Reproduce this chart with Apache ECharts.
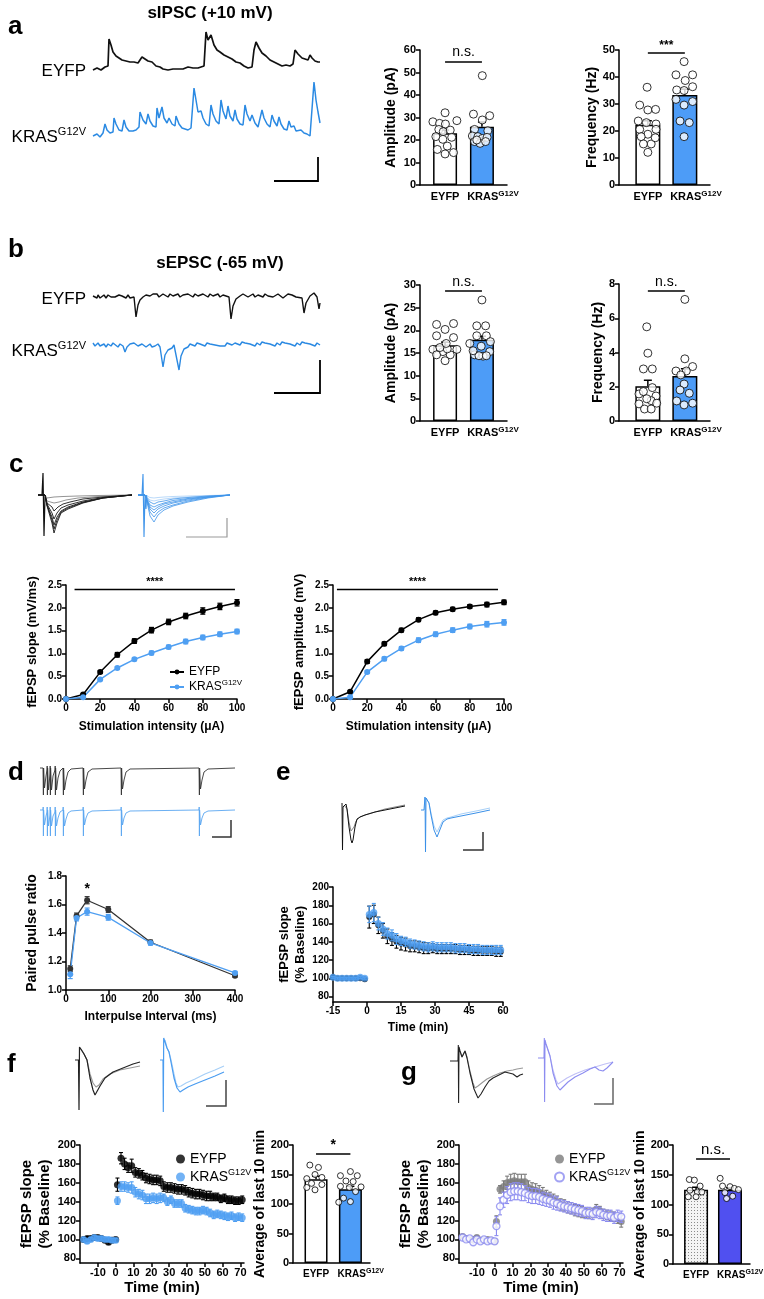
<!DOCTYPE html>
<html>
<head>
<meta charset="utf-8">
<script src="https://cdn.jsdelivr.net/npm/echarts@6/dist/echarts.min.js"></script>
<style>
html, body { margin: 0; padding: 0; background: #fff; }
#main { width: 764px; height: 1299px; }
</style>
</head>
<body>
<div id="main"></div>
<script>
var FONT = '"Liberation Sans", Arial, sans-serif';
var NARROW = '"Liberation Sans Narrow", "Liberation Sans", Arial, sans-serif';

// ---------- panel a : sIPSC ----------
var aAmpMean = [23.0, 25.9], aAmpSem = [1.4, 2.1];
var aAmpEyfp = [[-0.33,28.1],[-0.15,27.4],[0,32.1],[0.01,27.1],[0.32,28.6],[-0.17,24.7],[-0.05,23.7],[0.14,24.4],[-0.25,21.5],[-0.06,20.3],[0.18,21.2],[-0.21,15.8],[0.06,17.3],[0,13.8],[0.23,14.4]];
var aAmpKras = [[0.01,48.6],[-0.23,31.5],[0.01,28.9],[0.21,30.8],[-0.2,24.7],[0.16,24.1],[-0.26,21.8],[-0.11,21.5],[0.01,20.7],[0.14,21.2],[-0.2,19.3],[-0.05,18.5],[0.1,19.3],[-0.14,20.0]];
var aFreqMean = [22.3, 33.3], aFreqSem = [1.5, 2.2];
var aFreqEyfp = [[-0.02,36.2],[-0.22,29.6],[0,27.8],[0.21,28.0],[-0.26,23.7],[-0.04,23.1],[0.22,22.6],[-0.22,20.6],[0,18.8],[0.22,20.6],[-0.18,17.9],[0.09,15.2],[-0.12,15.2],[0,12.1],[0.2,17.5]];
var aFreqKras = [[-0.02,45.7],[-0.24,40.8],[0.21,40.8],[0.01,38.7],[0.21,36.4],[-0.22,35.2],[-0.02,35.0],[-0.24,31.7],[-0.02,29.6],[0.21,30.9],[-0.13,23.7],[0.12,23.1],[-0.02,17.9]];

// ---------- panel b : sEPSC ----------
var bAmpMean = [16.7, 17.9], bAmpSem = [0.7, 0.8];
var bAmpEyfp = [[-0.23,21.3],[0.23,21.5],[0,20.2],[-0.23,18.8],[0.23,18.4],[-0.33,15.8],[-0.06,15.3],[0.32,15.8],[-0.23,14.6],[0.14,14.6],[0,13.3],[0.06,15.9],[-0.14,16.2],[0.03,17.1]];
var bAmpKras = [[0,26.7],[-0.14,21.0],[0.1,21.0],[-0.14,18.8],[0.12,18.8],[-0.33,17.1],[-0.02,16.5],[0.23,17.5],[-0.2,14.6],[0.03,14.3],[0.21,15.3],[-0.08,14.4],[-0.24,15.5],[0.12,14.4]];
var bFreqMean = [2.03, 2.63], bFreqSem = [0.35, 0.42];
var bFreqEyfp = [[-0.03,5.5],[0,3.96],[-0.12,3.04],[0.12,3.04],[0.12,1.95],[-0.24,1.58],[-0.12,1.72],[0.22,1.46],[-0.24,1.0],[0.09,1.19],[0.24,1.04],[-0.09,0.7],[0.09,0.7],[-0.03,1.3]];
var bFreqKras = [[0,7.1],[0,3.63],[0.21,3.18],[-0.24,2.92],[0.04,2.92],[-0.11,2.69],[-0.02,2.16],[-0.13,1.81],[0.12,1.62],[-0.22,1.17],[-0.02,0.94],[0.21,1.04]];

// ---------- panel c : input-output ----------
var cIntensity = [0, 10, 20, 30, 40, 50, 60, 70, 80, 90, 100];
var cSlopeEyfp = [0, 0.10, 0.59, 0.97, 1.27, 1.51, 1.69, 1.82, 1.93, 2.03, 2.11];
var cSlopeEyfpSem = [0, 0.02, 0.03, 0.05, 0.05, 0.06, 0.06, 0.06, 0.07, 0.07, 0.07];
var cSlopeKras = [0, 0.04, 0.43, 0.68, 0.87, 1.01, 1.14, 1.26, 1.35, 1.42, 1.48];
var cSlopeKrasSem = [0, 0.01, 0.02, 0.03, 0.03, 0.04, 0.04, 0.05, 0.05, 0.05, 0.05];
var cAmpEyfp = [0, 0.16, 0.82, 1.21, 1.51, 1.74, 1.89, 1.97, 2.03, 2.07, 2.12];
var cAmpEyfpSem = [0, 0.02, 0.04, 0.04, 0.04, 0.04, 0.04, 0.04, 0.04, 0.05, 0.05];
var cAmpKras = [0, 0.04, 0.59, 0.88, 1.11, 1.29, 1.42, 1.51, 1.59, 1.64, 1.68];
var cAmpKrasSem = [0, 0.02, 0.03, 0.04, 0.04, 0.05, 0.05, 0.05, 0.05, 0.06, 0.06];

// ---------- panel d : paired pulse ----------
var dInterval = [10, 25, 50, 100, 200, 400];
var dEyfp = [1.15, 1.52, 1.63, 1.565, 1.335, 1.10];
var dEyfpSem = [0.02, 0.02, 0.025, 0.02, 0.015, 0.01];
var dKras = [1.11, 1.505, 1.55, 1.51, 1.33, 1.12];
var dKrasSem = [0.03, 0.02, 0.025, 0.02, 0.015, 0.01];

// ---------- panel e : LTP ----------
var eTime = [-15,-13,-11,-9,-7,-5,-3,-1,1,3,5,7,9,11,13,15,17,19,21,23,25,27,29,31,33,35,37,39,41,43,45,47,49,51,53,55,57,59];
var eEyfp = [101,100,100,100,100,100,100,99,167,170,158,152,146,143,140,138,137,135,135,134,133,133,133,132,132,132,132,132,131,131,131,130,130,130,130,130,129,129];
var eEyfpSem = [1,1,1,1,1,1,1,1.5,12,10,9,8,8,7,7,7,7,6,6,6,6,6,5,5,5,5,5,5,5,5,5,5,5,5,5,5,5,5];
var eKras = [101,100,100,100,100,100,101,100,170,172,160,154,149,147,143,141,140,138,137,136,135,134,135,134,134,134,134,133,133,133,132,132,132,131,131,131,131,131];
var eKrasSem = [1,1,1,1,1,1,1,1,9,10,7,7,6,6,6,5,5,5,5,5,5,5,5,5,5,5,5,5,5,5,5,5,5,5,5,5,5,5];

// ---------- panel f : LTP ----------
var fTime = [-18,-16,-14,-12,-10,-8,-6,-4,-2,0,1,3,5,7,9,11,13,15,17,19,21,23,25,27,29,31,33,35,37,39,41,43,45,47,49,51,53,55,57,59,61,63,65,67,69,71];
var fEyfp = [100,101,101,102,102,101,99,97,99,100,158,186,180,176,178,171,170,168,165,164,163,163,162,156,155,155,154,153,153,152,150,149,148,148,147,146,146,145,145,143,144,142,142,141,141,142];
var fEyfpSem = [2,2,2,2,2,2,2,2,2,2,7,6,6,5,7,5,5,5,5,5,5,5,5,5,5,5,5,5,5,5,5,5,5,5,5,5,5,4,4,4,4,4,4,4,4,4];
var fKras = [100,98,100,102,101,101,100,100,99,99,141,156,156,155,155,150,148,147,143,143,144,143,144,144,140,142,138,138,138,133,132,131,130,130,131,130,128,126,127,126,125,124,125,123,124,123];
var fKrasSem = [2,2,2,2,2,2,2,2,2,2,4,5,5,5,6,5,5,5,5,5,5,5,5,4,4,4,4,4,4,4,4,4,4,4,4,4,4,4,4,4,4,4,4,4,4,4];
var fBarMean = [142, 125], fBarSem = [5, 5];
var fBarEyfp = [[-0.18,166],[0.07,162],[-0.03,150],[-0.27,143],[0.17,145],[-0.13,135],[-0.27,128],[0.17,133],[-0.03,124]];
var fBarKras = [[0,155],[-0.29,148],[0.2,148],[-0.13,139],[0.08,138],[-0.29,130],[0.31,129],[-0.03,128],[0.15,121],[-0.2,110],[0,104],[-0.34,103]];

// ---------- panel g : LTP ----------
var gEyfp = [103,101,100,100,102,99,99,100,99,98,119,153,156,160,161,162,161,161,161,155,153,152,150,148,146,144,142,140,137,136,134,133,131,130,129,128,127,128,132,130,127,126,125,124,122,119];
var gEyfpSem = [2,2,2,2,2,2,2,2,2,2,6,4,6,7,8,8,8,8,8,7,7,7,7,7,6,6,6,6,6,6,6,6,6,6,6,5,5,5,5,5,5,5,5,5,5,6];
var gKras = [102,100,101,97,100,98,100,98,99,98,114,135,142,147,150,151,151,150,149,147,146,146,145,143,142,141,139,138,136,135,134,133,132,131,130,128,128,127,129,128,126,125,125,123,125,124];
var gKrasSem = [2,2,2,2,2,2,2,2,2,2,10,9,8,9,9,9,9,9,8,8,8,8,8,7,7,7,7,7,6,6,6,6,6,6,6,6,6,6,6,6,6,6,6,6,6,6];
var gBarMean = [125, 125], gBarSem = [4, 3];
var gBarEyfp = [[-0.2,142],[-0.05,141],[0.12,131],[-0.18,124],[0.04,121],[0.17,121],[-0.23,113],[0,113]];
var gBarKras = [[-0.29,144],[0,130],[-0.22,131],[0.13,127],[0.25,125],[-0.15,120],[0.08,114],[-0.1,110]];

// ---------- example traces ----------
var trIpscEyfp = [[0,0],[2,-1],[4,2],[6,0],[8,0],[10,2],[12,3],[15,4],[16,31],[18,25],[20,18],[23,14],[26,12],[29,10],[33,9],[37,8],[41,8],[45,7],[47,8],[49,13],[52,11],[55,9],[59,8],[63,4],[67,3],[70,1],[72,2],[75,0],[77,2],[80,1],[82,3],[85,1],[87,3],[90,1],[92,2],[95,3],[97,4],[100,2],[102,3],[105,2],[107,4],[111,4],[113,38],[115,30],[118,35],[121,25],[124,20],[127,18],[131,15],[135,13],[139,11],[143,8],[147,7],[151,4],[155,2],[159,3],[161,20],[163,28],[166,22],[169,17],[173,14],[177,10],[181,8],[185,6],[189,4],[193,5],[197,4],[200,6],[202,20],[205,16],[209,12],[212,11],[215,10],[217,15],[219,12],[222,9],[225,8],[227,8]];
var trIpscKras = [[0,4],[4,6],[7,3],[10,7],[12,16],[14,10],[17,7],[20,8],[21,22],[23,16],[26,10],[29,9],[31,20],[33,13],[36,9],[40,9],[43,10],[46,13],[47,28],[50,20],[53,16],[55,26],[57,19],[60,14],[63,13],[64,32],[66,22],[69,33],[71,22],[74,17],[76,22],[79,16],[82,14],[83,24],[86,16],[89,12],[92,11],[95,10],[98,12],[101,52],[103,40],[105,28],[108,29],[110,22],[113,16],[116,14],[118,35],[120,26],[123,19],[126,16],[128,40],[130,29],[133,21],[135,34],[137,24],[140,19],[142,30],[144,21],[147,16],[150,15],[152,35],[154,26],[157,19],[159,25],[162,17],[165,13],[169,30],[171,22],[174,16],[177,13],[179,25],[181,19],[184,14],[186,23],[188,16],[191,11],[194,10],[196,19],[198,13],[201,14],[203,9],[205,8],[208,10],[211,7],[214,6],[217,4],[219,2],[221,58],[223,40],[225,28],[227,17]];
var trEpscEyfp = [[0,1],[2,-1],[4,-1],[5,2],[7,-1],[9,1],[11,2],[13,-1],[15,2],[18,0],[20,2],[22,0],[24,-1],[26,2],[29,1],[31,-1],[33,-1],[35,2],[37,-1],[39,1],[41,0],[43,-20],[45,-8],[47,-3],[50,0],[53,2],[55,0],[57,1],[60,3],[62,1],[64,3],[66,0],[68,1],[70,3],[72,1],[75,0],[77,3],[80,1],[82,2],[85,3],[87,0],[90,2],[92,1],[95,3],[97,3],[100,0],[102,3],[105,1],[107,1],[110,3],[112,1],[115,0],[117,3],[120,1],[122,2],[125,3],[127,0],[130,2],[132,1],[136,0],[138,-22],[140,-9],[143,-2],[147,1],[150,3],[152,3],[155,0],[157,2],[160,3],[162,0],[165,2],[167,1],[170,0],[172,3],[175,1],[177,3],[180,0],[182,1],[185,3],[187,2],[190,-1],[192,0],[195,3],[197,1],[199,2],[201,3],[203,0],[205,2],[209,-1],[211,-16],[213,-6],[217,1],[219,3],[221,4],[224,0],[226,-12],[227,-6]];
var trEpscKras = [[0,2],[2,-1],[4,0],[5,2],[7,-1],[9,1],[11,1],[13,-2],[15,1],[18,-1],[20,2],[22,0],[25,-2],[27,1],[30,-1],[32,-7],[34,-2],[37,1],[39,-1],[41,2],[43,1],[45,-1],[47,-2],[49,1],[51,0],[53,-2],[55,0],[57,1],[59,-2],[62,-1],[65,1],[67,-2],[70,-22],[72,-10],[75,-5],[79,-3],[81,0],[83,-1],[86,-25],[88,-11],[91,-4],[95,-2],[97,1],[99,0],[102,-1],[104,2],[107,1],[109,-1],[112,-1],[114,2],[117,1],[119,-1],[122,0],[124,2],[127,-1],[129,1],[132,-1],[134,2],[136,1],[139,0],[142,2],[144,0],[147,0],[149,3],[152,2],[154,0],[157,1],[159,3],[162,-1],[164,2],[167,0],[169,3],[172,2],[174,0],[177,1],[179,3],[182,-1],[184,2],[187,0],[189,3],[192,2],[194,0],[197,1],[199,3],[202,-1],[204,2],[207,0],[209,3],[212,2],[214,0],[217,1],[219,3],[222,-1],[224,2],[227,0]];
var trIoArtEyfp = [[4,0],[5,22],[6,-41],[7,-2]];
var trIoEyfp = [
  [[0,0],[7,0],[9,-3],[11,-2],[16,-2],[25,-1.5],[40,-1],[60,-0.5],[94,0]],
  [[0,0],[7,0],[9,-6],[11,-4],[16,-8],[21,-7],[28,-5],[40,-3],[60,-1.5],[94,0]],
  [[0,0],[7,0],[9,-8],[11,-6],[14,-12],[16,-16],[20,-12],[25,-9],[32,-7],[45,-4],[65,-2],[94,0]],
  [[0,0],[7,0],[9,-9],[11,-7],[14,-18],[16,-24],[19,-18],[23,-13],[30,-10],[45,-6],[65,-2.5],[94,0]],
  [[0,0],[7,0],[9,-10],[11,-8],[14,-22],[16,-30],[19,-22],[23,-16],[30,-12],[45,-7],[65,-3],[94,0]],
  [[0,0],[7,0],[9,-10],[11,-8],[14,-25],[16,-34],[19,-25],[23,-17],[30,-13],[45,-7.5],[65,-3],[94,0]],
  [[0,0],[7,0],[9,-11],[11,-9],[14,-28],[16,-38],[19,-28],[23,-18],[30,-14],[45,-8],[65,-3],[94,0]]
];
var trIoArtKras = [[4,0],[5,21],[6,-42],[7,0],[8,-14],[8.7,0]];
var trIoKras = [
  [[0,0],[7,0],[9,-1],[12,-2.5],[16,-3],[20,-2.5],[26,-2],[35,-1.5],[50,-1],[70,-0.5],[92,0]],
  [[0,0],[7,0],[9,-2],[12,-5],[16,-6],[20,-5],[26,-4],[35,-3],[50,-2],[70,-1],[92,0]],
  [[0,0],[7,0],[9,-3],[12,-7],[16,-9],[20,-7],[26,-6],[35,-4],[50,-2.5],[70,-1],[92,0]],
  [[0,0],[7,0],[9,-4],[12,-10],[16,-12],[20,-10],[26,-8],[35,-5.5],[50,-3.5],[70,-1.5],[92,0]],
  [[0,0],[7,0],[9,-5],[12,-12],[16,-15],[20,-12],[26,-9],[35,-7],[50,-4],[70,-2],[92,0]],
  [[0,0],[7,0],[9,-5],[12,-14],[16,-18],[20,-14],[26,-11],[35,-8],[50,-5],[70,-2],[92,0]],
  [[0,0],[7,0],[9,-6],[12,-17],[16,-22],[20,-17],[26,-13],[35,-10],[50,-6],[70,-2.5],[92,0]],
  [[0,0],[7,0],[9,-7],[12,-21],[16,-27],[20,-20],[26,-15],[35,-11],[50,-7],[70,-3],[92,0]]
];
var trPprEyfp = [[0,0],[3,0],[3.2,2],[3.4,-27],[3.6,0],[4.5,-20],[6,-8],[7,-2],[7.2,2],[7.4,-27],[7.6,0],[8.5,-22],[10,-6],[10.2,2],[10.4,-27],[10.6,0],[11.5,-22],[13,-8],[15,-2],[15.2,2],[15.4,-27],[15.6,0],[16.5,-22],[18,-10],[20,-3],[23,0],[23.2,2],[23.4,-27],[23.6,0],[24.5,-22],[26,-12],[28,-4],[31,-1],[43,0],[43.2,2],[43.4,-27],[43.6,0],[44.5,-21],[46,-12],[48,-4],[52,-1],[81,0],[81.2,2],[81.4,-27],[81.6,0],[82.5,-21],[84,-12],[86,-4],[90,-1],[159,0],[159.2,2],[159.4,-27],[159.6,0],[160.5,-21],[162,-12],[164,-4],[168,-1],[195,0]];
var trPprKras = [[0,0],[3,0],[3.2,3],[3.4,-26],[3.6,0],[4.5,-15],[6,-6],[7,-2],[7.2,3],[7.4,-26],[7.6,0],[8.5,-16],[10,-5],[10.2,3],[10.4,-26],[10.6,0],[11.5,-16],[13,-6],[15,-2],[15.2,3],[15.4,-26],[15.6,0],[16.5,-16],[18,-8],[20,-2],[23,0],[23.2,3],[23.4,-26],[23.6,0],[24.5,-16],[26,-9],[28,-3],[31,-1],[43,0],[43.2,3],[43.4,-26],[43.6,0],[44.5,-15],[46,-8],[48,-3],[52,-1],[81,0],[81.2,3],[81.4,-26],[81.6,0],[82.5,-15],[84,-8],[86,-3],[90,-1],[159,0],[159.2,3],[159.4,-26],[159.6,0],[160.5,-15],[162,-8],[164,-3],[168,-1],[195,0]];
var trEEyfp = [[2,4],[2.5,-43],[3,0],[4,2],[5,1],[6,3],[7,-2],[9,-20],[11,-33],[12,-36],[13,-33],[15,-20],[17,-12],[20,-10],[25,-8],[35,-5],[45,-3],[55,-1],[65,1]];
var trEEyfpPre = [[4,2],[5,1],[6,3],[7,-2],[9,-15],[11,-24],[12,-26],[14,-20],[16,-14],[20,-10],[25,-8],[35,-5],[45,-2],[55,0],[65,2]];
var trEKras = [[0,0],[3,0],[4,13],[4.5,-42],[5,12],[6,10],[8,7],[10,-5],[13,-20],[16,-27],[18,-22],[22,-12],[26,-9],[30,-8],[40,-6],[55,-3],[69,0]];
var trEKrasPre = [[5,12],[6,10],[8,7],[10,-3],[13,-16],[16,-22],[18,-18],[22,-10],[26,-8],[30,-7],[40,-4],[55,-1],[69,2]];
var trFEyfp = [[0,0],[3.5,0],[4,-50],[4.5,13],[6,11],[9,6],[12,0],[15,-18],[18,-30],[20,-35],[22,-33],[25,-26],[30,-18],[38,-12],[48,-8],[58,-4],[65,-2]];
var trFEyfpPre = [[6,11],[9,6],[12,0],[15,-14],[18,-23],[21,-27],[24,-25],[28,-19],[35,-14],[45,-10],[55,-8],[65,-6]];
var trFKras = [[0,0],[3,0],[3.3,-52],[3.7,22],[5,20],[7,12],[9,8],[11,-2],[14,-18],[17,-28],[20,-32],[23,-30],[28,-27],[35,-24],[45,-20],[55,-16],[64,-12]];
var trFKrasPre = [[5,20],[7,12],[9,8],[11,0],[14,-14],[16,-23],[18,-27],[21,-26],[26,-23],[35,-19],[45,-14],[55,-10],[64,-6]];
var trGEyfp = [[5,0],[13,0],[13.3,16],[13.6,-42],[14,14],[15,10],[17,4],[19,6],[20,10],[22,3],[25,-12],[29,-28],[33,-37],[36,-33],[40,-26],[44,-20],[48,-17],[52,-15],[56,-13],[60,-11],[64,-12],[68,-13],[72,-16],[75,-14],[78,-13]];
var trGEyfpPre = [[15,10],[17,4],[19,6],[20,10],[22,4],[25,-10],[28,-22],[30,-27],[33,-25],[38,-21],[42,-18],[48,-15],[55,-12],[62,-10],[68,-9],[72,-8],[78,-7]];
var trGKras = [[3,0],[9,0],[9.3,20],[9.6,-44],[10,18],[11,14],[13,8],[15,2],[18,-15],[22,-28],[25,-32],[28,-29],[33,-24],[40,-19],[48,-15],[55,-11],[60,-9],[64,-12],[68,-13],[72,-10],[78,-4]];
var trGKrasPre = [[11,14],[13,8],[15,2],[18,-12],[21,-22],[23,-26],[26,-24],[32,-20],[40,-16],[50,-12],[60,-9],[70,-6],[78,-4]];

// ---------- helpers ----------
var grids = [], xAxes = [], yAxes = [], extraX = [], series = [], graphics = [];

function merge(a, b) {
  for (var k in b) {
    if (b[k] && typeof b[k] === 'object' && !Array.isArray(b[k]) && a[k] && typeof a[k] === 'object') merge(a[k], b[k]);
    else a[k] = b[k];
  }
  return a;
}
function valAxis(o) {
  return merge({
    type: 'value', splitLine: {show: false},
    axisLine: {show: true, onZero: false, lineStyle: {color: '#000', width: 1.5}},
    axisTick: {show: true, length: 4, lineStyle: {color: '#000', width: 1.5}},
    axisLabel: {color: '#000', fontWeight: 'bold', fontFamily: NARROW, fontSize: 11, margin: 4},
    nameLocation: 'middle',
    nameTextStyle: {color: '#000', fontWeight: 'bold', fontFamily: FONT, fontSize: 14}
  }, o || {});
}
function grid(l, t, w, h, xa, ya) {
  var i = grids.length;
  grids.push({left: l, top: t, width: w, height: h, outerBoundsMode: 'none', containLabel: false});
  xa.gridIndex = i; ya.gridIndex = i;
  xAxes.push(xa); yAxes.push(ya);
  return i;
}
function traceGrid(l, t, w, h, xr, yr) {
  return grid(l, t, w, h, {type: 'value', min: xr[0], max: xr[1], show: false},
                          {type: 'value', min: yr[0], max: yr[1], show: false});
}
function trace(g, data, color, width) {
  series.push({type: 'line', xAxisIndex: g, yAxisIndex: g, data: data, symbol: 'none', silent: true,
    lineStyle: {color: color, width: width || 1}, z: 2});
}
function rows(x, m, e) {
  return x.map(function (v, i) { return [v, m[i], e[i]]; });
}
function pairs(x, y) {
  return x.map(function (v, i) { return [v, y[i]]; });
}
function errBars(g, data, color, cap, upOnly, lw, z) {
  return {type: 'custom', xAxisIndex: g, yAxisIndex: g, data: data, silent: true, z: z || 3,
    encode: {x: 0, y: 1},
    renderItem: function (params, api) {
      var x = api.value(0), m = api.value(1), e = api.value(2);
      var hi = api.coord([x, m + e]), lo = api.coord([x, upOnly ? m : m - e]);
      var st = {stroke: color, lineWidth: lw || 1.2};
      var kids = [
        {type: 'line', shape: {x1: hi[0], y1: hi[1], x2: lo[0], y2: lo[1]}, style: st},
        {type: 'line', shape: {x1: hi[0] - cap, y1: hi[1], x2: hi[0] + cap, y2: hi[1]}, style: st}
      ];
      if (!upOnly) kids.push({type: 'line', shape: {x1: lo[0] - cap, y1: lo[1], x2: lo[0] + cap, y2: lo[1]}, style: st});
      return {type: 'group', children: kids};
    }};
}
function supRich(n, s, bold) {
  return {
    n: {fontSize: n, fontFamily: bold ? NARROW : FONT, fontWeight: bold ? 'bold' : 'normal', color: '#000', lineHeight: Math.round(n * 1.3)},
    s: {fontSize: s, fontFamily: bold ? NARROW : FONT, fontWeight: bold ? 'bold' : 'normal', color: '#000', verticalAlign: 'top', lineHeight: s}
  };
}

var dotPattern = (function () {
  var c = document.createElement('canvas');
  c.width = 3; c.height = 3;
  var ctx = c.getContext('2d');
  ctx.fillStyle = '#f4f4f4'; ctx.fillRect(0, 0, 3, 3);
  ctx.fillStyle = '#8a8a8a'; ctx.fillRect(1, 1, 1, 1);
  return c;
})();

var groupNames = ['{n|EYFP}', '{n|KRAS}{s|G12V}'];
function barPanel(p) {
  var g = grid(p.left, p.top, p.width, p.height,
    valAxis({min: p.xr[0], max: p.xr[1], axisTick: {show: false},
      axisLabel: {customValues: [0], fontSize: p.lab, margin: 5, showMinLabel: true, showMaxLabel: true,
        formatter: function () { return groupNames[0]; }, rich: supRich(p.lab, p.lab - 3, true)}}),
    valAxis({min: 0, max: p.yMax, interval: p.yStep, name: p.yName, nameGap: p.nameGap,
      axisLabel: {fontSize: p.tick || 11}, nameTextStyle: {fontSize: p.nameSize || 14}}));
  // a second, line-less bottom axis in the same grid carries the KRAS label;
  // the label is centred a little right of the bar so the superscript hangs off to the right
  extraX.push(valAxis({gridIndex: g, position: 'bottom', min: p.xr[0], max: p.xr[1], axisLine: {show: false}, axisTick: {show: false},
    axisLabel: {customValues: [p.krasLabelAt], fontSize: p.lab, margin: 5, showMinLabel: true, showMaxLabel: true,
      formatter: function () { return groupNames[1]; }, rich: supRich(p.lab, p.lab - 3, true)}}));
  series.push({type: 'bar', xAxisIndex: g, yAxisIndex: g, barWidth: p.barW, z: 2,
    data: [{value: [0, p.mean[0]], itemStyle: {color: p.fill[0]}}, {value: [1, p.mean[1]], itemStyle: {color: p.fill[1]}}],
    itemStyle: {borderColor: '#000', borderWidth: 1.5},
    markLine: {silent: true, symbol: 'none', animation: false,
      lineStyle: {color: '#000', width: 1.5, type: 'solid'},
      label: {show: true, position: 'insideMiddleTop', distance: p.sigDist || 2, formatter: p.sig[1], color: '#000',
        fontFamily: NARROW, fontSize: p.sigSize || 14, fontWeight: p.sigBold ? 'bold' : 'normal'},
      data: [[{coord: [0, p.sig[0]]}, {coord: [1, p.sig[0]]}]]}});
  series.push(errBars(g, rows([0, 1], p.mean, p.sem), '#000', 4, true, 1.5, 3));
  series.push({type: 'scatter', xAxisIndex: g, yAxisIndex: g, data: p.pts[0].concat(p.pts[1].map(function (d) { return [d[0] + 1, d[1]]; })),
    symbolSize: p.dot, itemStyle: {color: '#fff', borderColor: '#000', borderWidth: 1}, z: 4, silent: true});
  return g;
}

var BLUE = '#4f9ff2', BARBLUE = '#4d9cf7';

// ---------- a ----------
barPanel({left: 420, top: 50, width: 87, height: 135, xr: [-0.68, 1.68], yMax: 60, yStep: 10, yName: 'Amplitude (pA)', nameGap: 22,
  mean: aAmpMean, sem: aAmpSem, pts: [aAmpEyfp, aAmpKras], fill: ['#fff', BARBLUE], barW: 24, dot: 8, lab: 11, krasLabelAt: 1.3,
  sig: [55, 'n.s.']});
barPanel({left: 619, top: 50, width: 91, height: 135, xr: [-0.78, 1.68], yMax: 50, yStep: 10, yName: 'Frequency (Hz)', nameGap: 20,
  mean: aFreqMean, sem: aFreqSem, pts: [aFreqEyfp, aFreqKras], fill: ['#fff', BARBLUE], barW: 25, dot: 8, lab: 11, krasLabelAt: 1.3,
  sig: [48.9, '***'], sigBold: true, sigSize: 12, sigDist: 1});
// ---------- b ----------
barPanel({left: 420, top: 285, width: 87, height: 136, xr: [-0.68, 1.68], yMax: 30, yStep: 5, yName: 'Amplitude (pA)', nameGap: 22,
  mean: bAmpMean, sem: bAmpSem, pts: [bAmpEyfp, bAmpKras], fill: ['#fff', BARBLUE], barW: 24, dot: 8, lab: 11, krasLabelAt: 1.3,
  sig: [28.7, 'n.s.']});
barPanel({left: 619, top: 284, width: 91, height: 137, xr: [-0.78, 1.68], yMax: 8, yStep: 2, yName: 'Frequency (Hz)', nameGap: 13,
  mean: bFreqMean, sem: bFreqSem, pts: [bFreqEyfp, bFreqKras], fill: ['#fff', BARBLUE], barW: 25, dot: 8, lab: 11, krasLabelAt: 1.3,
  sig: [7.6, 'n.s.']});

// ---------- c ----------
function ioChart(left, yName, eyfp, eyfpSem, kras, krasSem, named) {
  var g = grid(left, 585, 171, 114,
    valAxis({min: 0, max: 100, interval: 20, name: 'Stimulation intensity (\u03bcA)', nameGap: 22,
      axisLabel: {fontSize: 10}, nameTextStyle: {fontSize: 12}}),
    valAxis({min: 0, max: 2.5, interval: 0.5, name: yName, nameGap: 27,
      axisLabel: {fontSize: 10, formatter: function (v) { return v.toFixed(1); }}, nameTextStyle: {fontSize: 13}}));
  series.push(errBars(g, rows(cIntensity, eyfp, eyfpSem), '#000', 2.5, false, 1.2, 4));
  series.push(errBars(g, rows(cIntensity, kras, krasSem), BLUE, 2.5, false, 1.2, 4));
  series.push({type: 'line', name: named ? 'cE' : undefined, xAxisIndex: g, yAxisIndex: g, data: pairs(cIntensity, eyfp),
    symbol: 'circle', symbolSize: 6, itemStyle: {color: '#000'}, lineStyle: {color: '#000', width: 1.5}, z: 5, silent: true,
    markLine: {silent: true, symbol: 'none', animation: false, lineStyle: {color: '#000', width: 1.3, type: 'solid'},
      label: {show: true, position: 'insideMiddleTop', distance: 2, formatter: '****', color: '#000', fontFamily: NARROW, fontSize: 11, fontWeight: 'bold'},
      data: [[{coord: [left < 200 ? 5 : 2.3, 2.41]}, {coord: [left < 200 ? 98.8 : 96.5, 2.41]}]]}});
  series.push({type: 'line', name: named ? 'cK' : undefined, xAxisIndex: g, yAxisIndex: g, data: pairs(cIntensity, kras),
    symbol: 'circle', symbolSize: 6, itemStyle: {color: BLUE}, lineStyle: {color: BLUE, width: 1.5}, z: 5, silent: true});
}
ioChart(66, 'fEPSP slope (mV/ms)', cSlopeEyfp, cSlopeEyfpSem, cSlopeKras, cSlopeKrasSem, true);
ioChart(333, 'fEPSP amplitude (mV)', cAmpEyfp, cAmpEyfpSem, cAmpKras, cAmpKrasSem, false);

// ---------- d ----------
var gD = grid(66, 876, 169, 114,
  valAxis({min: 0, max: 400, interval: 100, name: 'Interpulse Interval (ms)', nameGap: 21, axisLabel: {fontSize: 10}, nameTextStyle: {fontSize: 12, fontFamily: NARROW}}),
  valAxis({min: 1.0, max: 1.8, interval: 0.2, name: 'Paired pulse ratio', nameGap: 27, axisLabel: {fontSize: 10, formatter: function (v) { return v.toFixed(1); }}, nameTextStyle: {fontSize: 14}}));
series.push(errBars(gD, rows(dInterval, dEyfp, dEyfpSem), '#333', 2.5, false, 1.2, 4));
series.push(errBars(gD, rows(dInterval, dKras, dKrasSem), BLUE, 2.5, false, 1.2, 4));
series.push({type: 'line', xAxisIndex: gD, yAxisIndex: gD, data: pairs(dInterval, dEyfp), symbol: 'circle', symbolSize: 6, silent: true,
  itemStyle: {color: '#333'}, lineStyle: {color: '#333', width: 1.3}, z: 5,
  markPoint: {silent: true, animation: false, symbol: 'circle', symbolSize: 1, itemStyle: {color: 'rgba(0,0,0,0)'},
    label: {show: true, position: 'inside', formatter: '*', color: '#000', fontSize: 14, fontWeight: 'bold', fontFamily: FONT},
    data: [{coord: [50, 1.71]}]}});
series.push({type: 'line', xAxisIndex: gD, yAxisIndex: gD, data: pairs(dInterval, dKras), symbol: 'circle', symbolSize: 6, silent: true,
  itemStyle: {color: BLUE}, lineStyle: {color: BLUE, width: 1.3}, z: 5});

// ---------- e ----------
var ltpTicks = [80, 100, 120, 140, 160, 180, 200];
var gE = grid(333, 887, 170, 115,
  valAxis({min: -15, max: 60, interval: 15, name: 'Time (min)', nameGap: 20, axisLabel: {fontSize: 10}, nameTextStyle: {fontSize: 12, fontFamily: NARROW}}),
  valAxis({min: 74, max: 200, axisLabel: {customValues: ltpTicks, fontSize: 10}, axisTick: {customValues: ltpTicks},
    name: 'fEPSP slope\n(% Baseline)', nameGap: 22, nameTextStyle: {fontSize: 13, lineHeight: 16}}));
series.push(errBars(gE, rows(eTime, eEyfp, eEyfpSem), '#000', 2, false, 1.1, 3));
series.push({type: 'scatter', xAxisIndex: gE, yAxisIndex: gE, data: pairs(eTime, eEyfp), symbolSize: 6, itemStyle: {color: '#000'}, z: 4, silent: true});
series.push(errBars(gE, rows(eTime, eKras, eKrasSem), BLUE, 2, false, 1.1, 5));
series.push({type: 'scatter', xAxisIndex: gE, yAxisIndex: gE, data: pairs(eTime, eKras), symbolSize: 7, itemStyle: {color: BLUE}, z: 6, silent: true});

// ---------- f, g ----------
var timeTicks = [-10, 0, 10, 20, 30, 40, 50, 60, 70];
function ltpChart(left, nameE, nameK, eyfp, eyfpSem, kras, krasSem, colE, colK, openK) {
  var g = grid(left, 1145, 164, 118,
    valAxis({min: -20, max: 72, axisLabel: {customValues: timeTicks, fontSize: 11}, axisTick: {customValues: timeTicks},
      name: 'Time (min)', nameGap: 17, nameTextStyle: {fontSize: 15, fontFamily: NARROW}}),
    valAxis({min: 75, max: 200, axisLabel: {customValues: ltpTicks, fontSize: 11}, axisTick: {customValues: ltpTicks},
      name: 'fEPSP slope\n(% Baseline)', nameGap: 24, nameTextStyle: {fontSize: 15, lineHeight: 18}}));
  series.push(errBars(g, rows(fTime, eyfp, eyfpSem), colE, 2, false, 1.1, 3));
  series.push({type: 'scatter', name: nameE, xAxisIndex: g, yAxisIndex: g, data: pairs(fTime, eyfp), symbolSize: 7, itemStyle: {color: colE}, z: 4, silent: true});
  series.push(errBars(g, rows(fTime, kras, krasSem), colK, 2, false, 1.1, 5));
  series.push({type: 'scatter', name: nameK, xAxisIndex: g, yAxisIndex: g, data: pairs(fTime, kras), symbolSize: 7,
    itemStyle: openK ? {color: '#fff', borderColor: colK, borderWidth: 1.3} : {color: colK}, z: 6, silent: true});
}
ltpChart(80, 'fE', 'fK', fEyfp, fEyfpSem, fKras, fKrasSem, '#000', BLUE, false);
ltpChart(459, 'gE', 'gK', gEyfp, gEyfpSem, gKras, gKrasSem, '#7a7a7a', '#8b8bf0', true);

barPanel({left: 293, top: 1145, width: 77, height: 118, xr: [-0.67, 1.57], yMax: 200, yStep: 50, yName: 'Average of last 10 min', nameGap: 26,
  mean: fBarMean, sem: fBarSem, pts: [fBarEyfp, fBarKras], fill: ['#fff', BARBLUE], barW: 23, dot: 6, lab: 10, nameSize: 14, krasLabelAt: 1.3,
  sig: [185, '*'], sigBold: true, sigSize: 14, sigDist: 0});
barPanel({left: 673, top: 1145, width: 77, height: 119, xr: [-0.68, 1.59], yMax: 200, yStep: 50, yName: 'Average of last 10 min', nameGap: 26,
  mean: gBarMean, sem: gBarSem, pts: [gBarEyfp, gBarKras], fill: [{image: dotPattern, repeat: 'repeat'}, '#5050f0'], barW: 24, dot: 6, lab: 10, nameSize: 14, krasLabelAt: 1.3,
  sig: [176.5, 'n.s.'], sigSize: 15});

// ---------- traces ----------
var g;
g = traceGrid(93, 28, 227, 50, [0, 227], [-8, 42]); trace(g, trIpscEyfp, '#111', 1.7);
g = traceGrid(93, 78, 227, 70, [0, 227], [-8, 62]); trace(g, trIpscKras, '#2b8ae3', 1.5);
g = traceGrid(93, 285, 227, 40, [0, 227], [-28, 12]); trace(g, trEpscEyfp, '#111', 1.4);
g = traceGrid(93, 330, 227, 45, [0, 227], [-30, 15]); trace(g, trEpscKras, '#2a89e2', 1.4);
g = traceGrid(38, 470, 94, 70, [0, 94], [-45, 25]);
trIoEyfp.forEach(function (d, i) { trace(g, d, i < 2 ? '#888' : '#1a1a1a', 0.9); });
trace(g, trIoArtEyfp, '#111', 1.2);
g = traceGrid(138, 470, 94, 70, [0, 94], [-45, 25]);
trIoKras.forEach(function (d, i) { trace(g, d, i < 2 ? '#a8cff7' : '#3f94ea', 0.8); });
trace(g, trIoArtKras, '#3f94ea', 1.1);
g = traceGrid(40, 762, 195, 38, [0, 195], [-32, 6]); trace(g, trPprEyfp, '#333', 0.9);
g = traceGrid(40, 804, 195, 38, [0, 195], [-32, 6]); trace(g, trPprKras, '#5aa6f0', 0.9);
g = traceGrid(340, 798, 68, 56, [0, 68], [-47, 9]); trace(g, trEEyfpPre, '#888', 1); trace(g, trEEyfp, '#111', 1);
g = traceGrid(421, 790, 72, 66, [0, 72], [-46, 20]); trace(g, trEKrasPre, '#a6cff7', 1); trace(g, trEKras, '#3a90e8', 1);
g = traceGrid(75, 1040, 68, 75, [0, 68], [-55, 20]); trace(g, trFEyfpPre, '#999', 1.2); trace(g, trFEyfp, '#222', 1.2);
g = traceGrid(160, 1030, 68, 85, [0, 68], [-55, 30]); trace(g, trFKrasPre, '#a6cff7', 1.2); trace(g, trFKras, '#4a9cf0', 1.2);
g = traceGrid(445, 1040, 80, 68, [0, 80], [-47, 21]); trace(g, trGEyfpPre, '#999', 1.1); trace(g, trGEyfp, '#222', 1.1);
g = traceGrid(535, 1030, 80, 78, [0, 80], [-50, 28]); trace(g, trGKrasPre, '#c0c0f6', 1.1); trace(g, trGKras, '#8c8cf0', 1.1);

// ---------- text and scale bars ----------
function txt(x, y, text, size, bold, align, family, rich) {
  graphics.push({type: 'text', x: x, y: y, silent: true, style: {text: text, fontSize: size, fontWeight: bold ? 'bold' : 'normal',
    fontFamily: family || FONT, fill: '#000', align: align || 'left', verticalAlign: 'middle', rich: rich}});
}
function bar(pts, color, w) {
  graphics.push({type: 'polyline', silent: true, shape: {points: pts}, style: {stroke: color, lineWidth: w, fill: null}});
}
var letters = [['a', 8, 27], ['b', 8, 250], ['c', 9, 465], ['d', 8, 773], ['e', 276, 773], ['f', 7, 1065], ['g', 401, 1073]];
letters.forEach(function (l) { txt(l[1], l[2], l[0], 26, true); });
txt(210, 13, 'sIPSC (+10 mV)', 17, true, 'center', NARROW);
txt(220, 263, 'sEPSC (-65 mV)', 17, true, 'center', NARROW);
var traceRich = supRich(17, 11, false);
txt(86, 71, 'EYFP', 17, false, 'right');
txt(86, 137, '{n|KRAS}{s|G12V}', 17, false, 'right', FONT, traceRich);
txt(86, 299, 'EYFP', 17, false, 'right');
txt(86, 351, '{n|KRAS}{s|G12V}', 17, false, 'right', FONT, traceRich);

bar([[274, 181], [318, 181], [318, 157]], '#000', 1.8);
bar([[274, 393], [320, 393], [320, 360]], '#000', 1.8);
bar([[186, 537], [227, 537], [227, 518]], '#999', 1.2);
bar([[212, 837], [231, 837], [231, 820]], '#333', 1.5);
bar([[463, 850], [483, 850], [483, 832]], '#333', 1.5);
bar([[206, 1106], [226, 1106], [226, 1080]], '#444', 1.5);
bar([[594, 1104], [613, 1104], [613, 1078]], '#666', 1.5);

var legendNames = {cE: 'EYFP', cK: '{n|KRAS}{s|G12V}', fE: 'EYFP', fK: '{n|KRAS}{s|G12V}', gE: 'EYFP', gK: '{n|KRAS}{s|G12V}'};
function legendFmt(n) { return legendNames[n]; }

var chart = echarts.init(document.getElementById('main'), null, {renderer: 'canvas'});
chart.setOption({
  animation: false,
  backgroundColor: '#fff',
  grid: grids,
  xAxis: xAxes.concat(extraX),
  yAxis: yAxes,
  series: series,
  graphic: graphics,
  legend: [
    {data: ['cE', 'cK'], left: 164, top: 661, orient: 'vertical', itemGap: 1, itemWidth: 14, itemHeight: 6, selectedMode: false,
      formatter: legendFmt, textStyle: {fontSize: 12, fontFamily: FONT, color: '#000', lineHeight: 12, rich: supRich(12, 8, false)}},
    {data: ['fE', 'fK'], left: 171, top: 1147, orient: 'vertical', itemGap: 2, itemWidth: 9, itemHeight: 9, selectedMode: false,
      formatter: legendFmt, textStyle: {fontSize: 14, fontFamily: FONT, color: '#000', rich: supRich(14, 9, false)}},
    {data: ['gE', 'gK'], left: 549, top: 1147, orient: 'vertical', itemGap: 2, itemWidth: 9, itemHeight: 9, selectedMode: false,
      formatter: legendFmt, textStyle: {fontSize: 14, fontFamily: FONT, color: '#000', rich: supRich(14, 9, false)}}
  ]
});
</script>
</body>
</html>
